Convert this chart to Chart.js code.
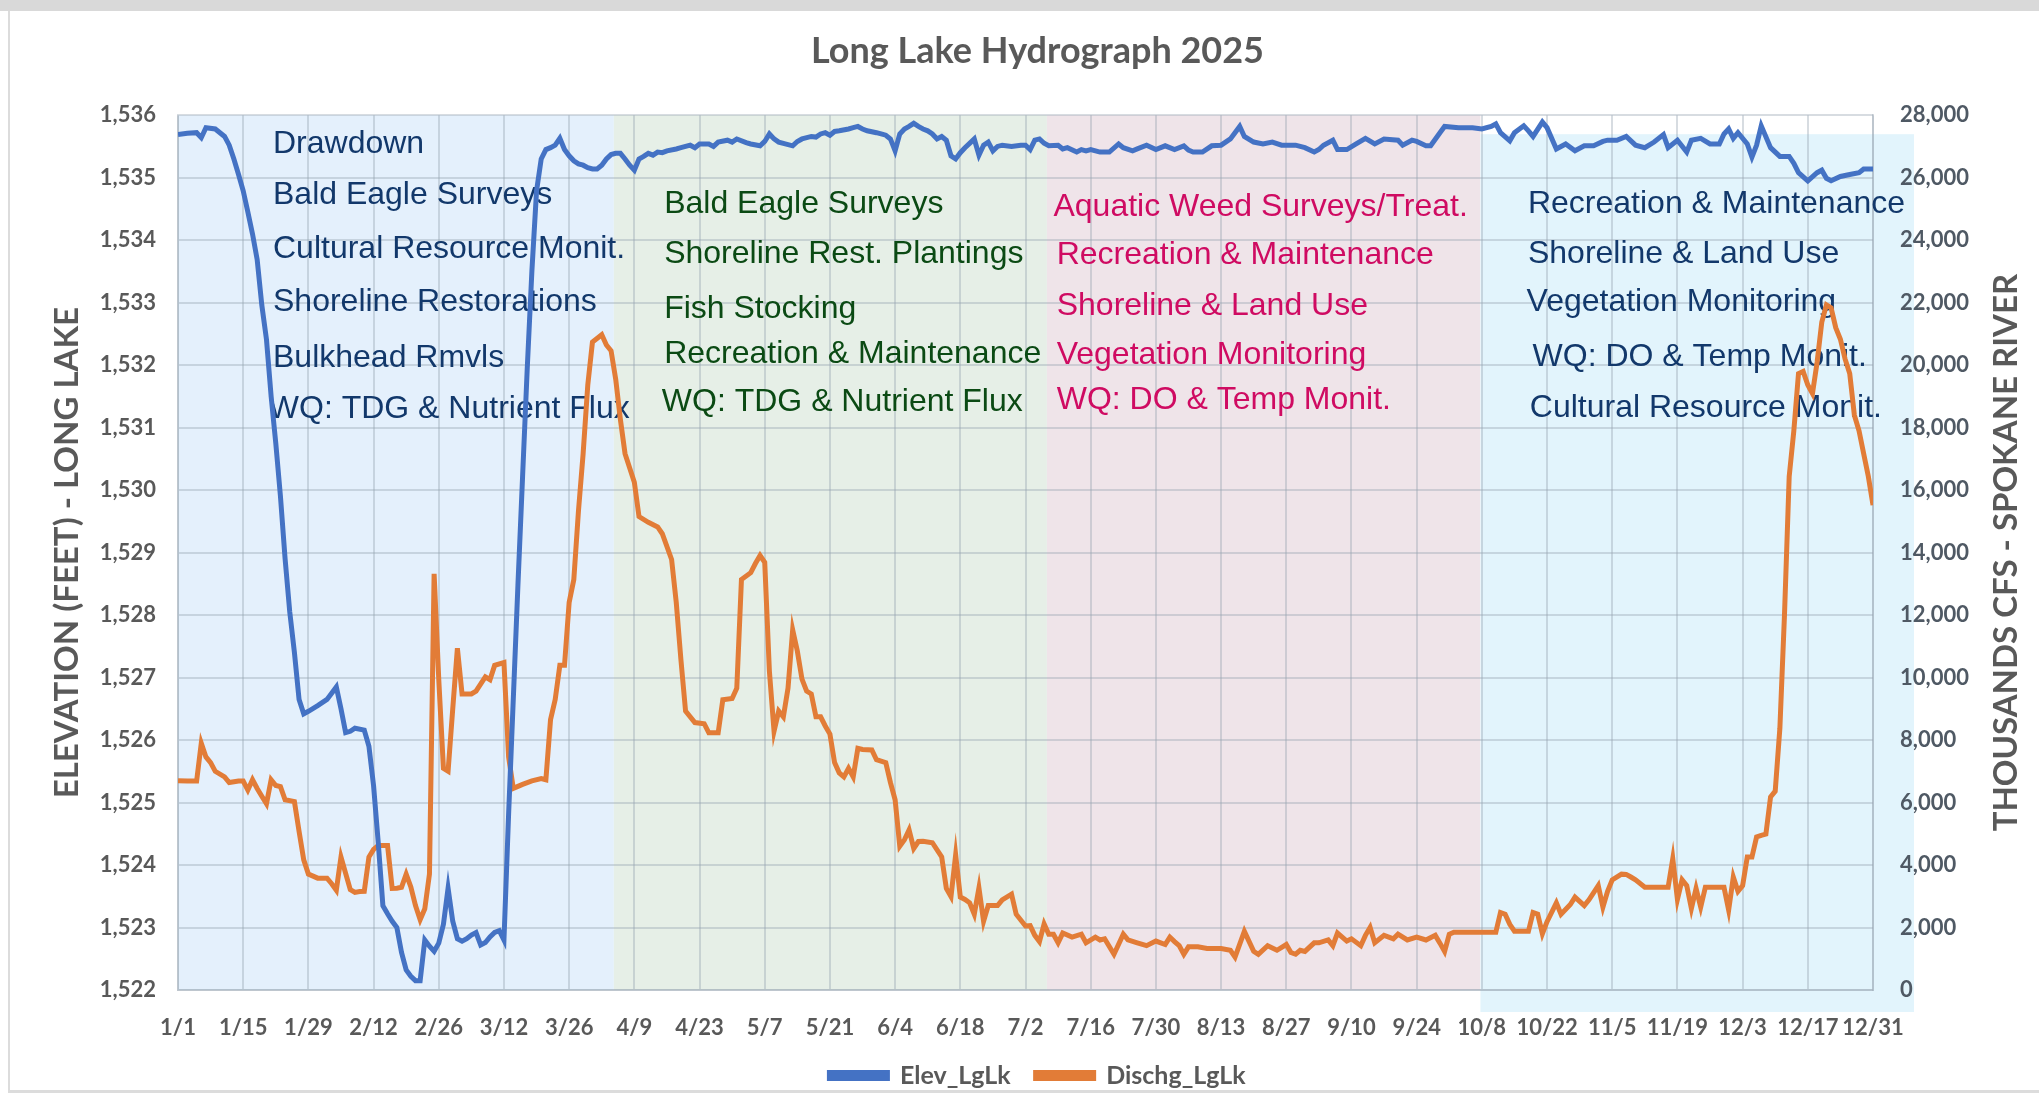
<!DOCTYPE html>
<html>
<head>
<meta charset="utf-8">
<title>Long Lake Hydrograph 2025</title>
<script src="https://cdn.jsdelivr.net/npm/chart.js@4.4.1/dist/chart.umd.min.js"></script>
<style>
  html, body { margin: 0; padding: 0; background: #ffffff; overflow: hidden; }
  .topbar { position: absolute; left: 0; top: 0; width: 2039px; height: 11px; background: #d9d9d9; }
  .frame { position: absolute; left: 8px; top: 11px; width: 2031px; height: 1079px;
           border-left: 2px solid #dcdcdc; border-bottom: 3px solid #dcdcdc; }
  .chart-box { position: absolute; left: 0; top: 0; width: 2039px; height: 1094px; }
</style>
</head>
<body>
<div class="topbar"></div>
<div class="frame"></div>
<div class="chart-box"><canvas id="hydrograph" width="2039" height="1094"></canvas></div>
<script>
// ---- data (day 0 = 1/1/2025) ----
const elevDay = [0,2,4,5,6,8,10,11,12,13,14,15,16,17,18,19,20,21,22,23,24,25,26,27,28,30,32,33,34,35,36,37,38,40,41,42,43,44,45,46,47,48,49,50,51,52,53,54,55,56,57,58,59,60,61,62,63,64,65,66,67,68,69,70,71,72,73,74,75,76,77,78,79,80,81,82,83,84,85,86,87,88,89,90,91,92,93,94,95,96,97,98,99,100,101,102,103,104,105,107,108,110,111,112,114,115,116,118,119,120,122,123,125,126,127,128,129,130,132,133,134,136,137,138,139,140,141,142,144,145,146,147,148,150,151,152,153,154,155,156,157,158,159,160,161,162,163,164,165,166,167,168,169,170,171,172,173,174,175,176,177,179,181,182,183,184,185,186,187,189,190,191,193,194,195,196,198,200,202,203,205,206,208,210,212,214,216,217,218,220,222,224,226,228,229,231,233,235,237,238,240,242,244,245,246,248,249,251,253,255,257,259,262,263,265,266,268,269,271,272,275,278,280,282,283,284,286,287,289,290,291,293,294,296,298,300,302,304,306,307,309,311,313,315,317,319,320,322,324,325,327,329,331,332,333,334,335,337,338,339,340,342,344,346,347,348,350,352,353,354,355,357,359,361,362,364];
const elevFt = [1535.69,1535.71,1535.72,1535.64,1535.80,1535.78,1535.66,1535.52,1535.30,1535.05,1534.79,1534.45,1534.10,1533.69,1532.96,1532.41,1531.50,1530.75,1529.90,1528.90,1528.05,1527.40,1526.65,1526.42,1526.46,1526.55,1526.65,1526.75,1526.85,1526.50,1526.12,1526.14,1526.19,1526.16,1525.90,1525.27,1524.36,1523.35,1523.22,1523.10,1523.00,1522.60,1522.32,1522.22,1522.15,1522.15,1522.80,1522.70,1522.62,1522.75,1523.05,1523.63,1523.10,1522.82,1522.78,1522.82,1522.88,1522.92,1522.72,1522.76,1522.85,1522.92,1522.95,1522.80,1524.82,1526.65,1528.48,1530.22,1531.95,1533.51,1534.79,1535.30,1535.45,1535.48,1535.52,1535.63,1535.45,1535.35,1535.27,1535.22,1535.20,1535.16,1535.14,1535.14,1535.20,1535.30,1535.37,1535.39,1535.39,1535.30,1535.20,1535.12,1535.30,1535.34,1535.39,1535.36,1535.41,1535.40,1535.43,1535.46,1535.48,1535.52,1535.48,1535.54,1535.54,1535.50,1535.57,1535.60,1535.57,1535.62,1535.56,1535.54,1535.51,1535.58,1535.70,1535.62,1535.57,1535.55,1535.51,1535.58,1535.62,1535.66,1535.65,1535.70,1535.72,1535.68,1535.74,1535.75,1535.78,1535.80,1535.82,1535.78,1535.75,1535.72,1535.70,1535.68,1535.62,1535.43,1535.70,1535.78,1535.82,1535.87,1535.82,1535.78,1535.75,1535.70,1535.62,1535.66,1535.60,1535.35,1535.30,1535.40,1535.48,1535.55,1535.62,1535.36,1535.52,1535.57,1535.43,1535.50,1535.52,1535.50,1535.52,1535.52,1535.45,1535.60,1535.62,1535.55,1535.51,1535.52,1535.46,1535.48,1535.41,1535.45,1535.43,1535.45,1535.41,1535.41,1535.54,1535.48,1535.43,1535.46,1535.52,1535.45,1535.51,1535.45,1535.51,1535.44,1535.41,1535.41,1535.51,1535.52,1535.62,1535.82,1535.66,1535.57,1535.54,1535.57,1535.52,1535.52,1535.52,1535.48,1535.41,1535.45,1535.52,1535.60,1535.45,1535.45,1535.54,1535.63,1535.54,1535.62,1535.60,1535.52,1535.60,1535.58,1535.51,1535.51,1535.72,1535.82,1535.80,1535.80,1535.78,1535.82,1535.86,1535.72,1535.59,1535.72,1535.83,1535.75,1535.66,1535.89,1535.80,1535.46,1535.54,1535.43,1535.51,1535.51,1535.58,1535.60,1535.60,1535.66,1535.52,1535.48,1535.57,1535.69,1535.48,1535.60,1535.41,1535.60,1535.63,1535.54,1535.54,1535.70,1535.78,1535.63,1535.72,1535.54,1535.33,1535.52,1535.83,1535.48,1535.34,1535.34,1535.23,1535.08,1534.95,1535.08,1535.12,1534.99,1534.95,1535.02,1535.05,1535.08,1535.14,1535.14];

const flowDay = [0,2,4,5,6,7,8,10,11,13,14,15,16,17,18,19,20,21,22,23,25,26,27,28,30,32,33,34,35,37,38,39,40,41,42,43,45,46,47,48,49,50,51,52,53,54,55,56,57,58,59,60,61,63,64,66,67,68,70,71,72,74,76,78,79,80,81,82,83,84,85,86,87,88,89,91,92,93,94,95,96,98,99,101,103,104,106,107,108,109,111,113,114,116,117,119,120,121,123,124,125,126,127,128,129,130,131,132,133,134,135,136,137,138,139,140,141,142,143,144,145,146,147,149,150,152,153,154,155,156,157,158,159,160,162,164,165,166,167,168,169,170,171,172,173,174,176,177,179,180,182,183,184,185,186,187,188,189,190,192,194,195,197,198,199,201,203,204,206,208,210,212,213,214,215,216,217,219,221,224,226,227,229,231,232,234,236,238,239,240,241,242,244,245,247,248,249,251,252,254,255,256,257,259,261,262,264,266,268,270,271,272,273,274,283,284,285,286,287,290,291,292,293,294,296,297,299,300,302,303,305,306,307,308,310,311,312,313,315,320,321,322,323,324,325,326,327,328,332,333,334,335,336,337,338,339,340,341,342,343,344,345,346,347,348,349,350,351,352,353,354,355,356,357,358,359,360,361,362,363,364];
const flowCfs = [6700,6690,6690,7900,7460,7280,7000,6820,6640,6690,6690,6400,6730,6450,6200,5960,6730,6546,6510,6090,6030,5080,4165,3710,3580,3580,3400,3195,4257,3213,3122,3150,3159,4257,4500,4623,4623,3250,3260,3287,3708,3300,2701,2250,2600,3708,13320,9933,7095,7004,9000,10940,9476,9476,9567,10025,9933,10391,10482,7461,6454,6582,6692,6765,6729,8652,9293,10391,10391,12405,13137,15335,17166,19363,20736,20974,20645,20462,19546,18265,17166,16251,15152,14969,14823,14603,13779,12405,10574,8926,8560,8523,8230,8230,9293,9329,9659,13137,13357,13650,13906,13687,10208,8285,8926,8743,9659,11527,10849,9950,9567,9476,8743,8743,8450,8194,7278,6950,6821,7095,6821,7736,7700,7681,7370,7278,6637,6088,4600,4806,5126,4532,4752,4760,4715,4257,3250,2990,4325,2975,2900,2792,2426,3268,2200,2701,2701,2884,3067,2426,2050,2060,1749,1548,2115,1785,1785,1511,1822,1694,1785,1511,1694,1602,1639,1144,1785,1602,1511,1419,1566,1456,1694,1550,1419,1144,1382,1382,1327,1327,1272,1053,1877,1236,1144,1419,1272,1456,1200,1144,1272,1236,1511,1511,1602,1419,1822,1566,1639,1419,1749,2005,1511,1749,1639,1785,1602,1694,1602,1749,1500,1236,1785,1850,1850,2480,2426,2100,1880,1880,2480,2426,1800,2188,2792,2426,2737,2975,2701,2884,3342,2650,3159,3525,3708,3700,3616,3525,3287,3287,4200,2900,3525,3342,2609,3250,2650,3287,3287,2560,3616,3159,3342,4257,4257,4898,4950,4990,6180,6363,8377,12041,16434,17899,19730,19800,19363,19089,20096,21377,21927,21835,21200,20828,20200,19730,18400,17899,17166,16434,15518];

// activity periods (background bands), in days
const bandFrom = [0, 93.6, 186.6, 279.7];
const bandTo = [93.6, 186.6, 279.7, 372.8];
const bandColors = ["#e4f0fc", "#e6efe7", "#efe4e9", "#e2f4fc"];
const bandTopPad = [0, 0, 0, 19];     // last band sits a bit lower and spills past the axis
const bandBottomPad = [0, 0, 0, 22];

// notes written in each band
const blueNotes = ["Drawdown", "Bald Eagle Surveys", "Cultural Resource Monit.", "Shoreline Restorations", "Bulkhead Rmvls", "WQ: TDG & Nutrient Flux"];
const blueNoteAt = [[20.4, 1535.58], [20.4, 1534.77], [20.4, 1533.90], [20.4, 1533.05], [20.4, 1532.16], [19.5, 1531.34]];
const greenNotes = ["Bald Eagle Surveys", "Shoreline Rest. Plantings", "Fish Stocking", "Recreation & Maintenance", "WQ: TDG & Nutrient Flux"];
const greenNoteAt = [[104.4, 1534.63], [104.4, 1533.82], [104.4, 1532.94], [104.4, 1532.23], [103.9, 1531.45]];
const pinkNotes = ["Aquatic Weed Surveys/Treat.", "Recreation & Maintenance", "Shoreline & Land Use", "Vegetation Monitoring", "WQ: DO & Temp Monit."];
const pinkNoteAt = [[188.0, 1534.58], [188.7, 1533.81], [188.7, 1532.99], [188.7, 1532.21], [188.7, 1531.48]];
const cyanNotes = ["Recreation & Maintenance", "Shoreline & Land Use", "Vegetation Monitoring", "WQ: DO & Temp Monit.", "Cultural Resource Monit."];
const cyanNoteAt = [[289.9, 1534.63], [289.9, 1533.82], [289.6, 1533.05], [290.9, 1532.17], [290.3, 1531.36]];

const noteGroups = [
  { texts: blueNotes, at: blueNoteAt, color: "#12386b" },
  { texts: greenNotes, at: greenNoteAt, color: "#0b4a14" },
  { texts: pinkNotes, at: pinkNoteAt, color: "#cf0b62" },
  { texts: cyanNotes, at: cyanNoteAt, color: "#12386b" },
];

const gridColor = "rgba(150, 162, 175, 0.38)";

// day number -> "m/d"
function dayLabel(day) {
  const d = new Date(2025, 0, 1 + day);
  return (d.getMonth() + 1) + "/" + d.getDate();
}

// coloured season bands behind the grid
const bandPlugin = {
  id: "bands",
  beforeDraw(chart) {
    const { ctx, chartArea, scales } = chart;
    ctx.save();
    bandFrom.forEach((from, i) => {
      const x0 = scales.x.getPixelForValue(from);
      const x1 = scales.x.getPixelForValue(bandTo[i]);
      const y0 = chartArea.top + bandTopPad[i];
      const y1 = chartArea.bottom + bandBottomPad[i];
      ctx.fillStyle = bandColors[i];
      ctx.fillRect(x0, y0, x1 - x0, y1 - y0);
    });
    ctx.restore();
  },
};

// activity notes, under the lines
const notesPlugin = {
  id: "notes",
  beforeDatasetsDraw(chart) {
    const { ctx, scales } = chart;
    ctx.save();
    ctx.font = "32px 'Liberation Sans', Arial, sans-serif";
    ctx.textAlign = "left";
    ctx.textBaseline = "middle";
    noteGroups.forEach(group => {
      ctx.fillStyle = group.color;
      group.texts.forEach((t, i) => {
        const x = scales.x.getPixelForValue(group.at[i][0]);
        const y = scales.y.getPixelForValue(group.at[i][1]) + 3;
        ctx.fillText(t, x, y);
      });
    });
    ctx.restore();
  },
};

// right axis title reads bottom-to-top like the left one
const rightTitlePlugin = {
  id: "rightTitle",
  afterDraw(chart) {
    const { ctx, chartArea } = chart;
    ctx.save();
    ctx.translate(chart.width - 33, (chartArea.top + chartArea.bottom) / 2);
    ctx.rotate(-Math.PI / 2);
    ctx.font = "bold 33px Lato";
    ctx.fillStyle = "#595959";
    ctx.textAlign = "center";
    ctx.textBaseline = "middle";
    ctx.fillText("THOUSANDS CFS - SPOKANE RIVER", 0, 0);
    ctx.restore();
  },
};

Chart.defaults.font.family = "Lato";
Chart.defaults.color = "#595959";

const ctx = document.getElementById("hydrograph").getContext("2d");

const hydrograph = new Chart(ctx, {
  type: "line",
  data: {
    datasets: [
      {
        label: "Elev_LgLk",
        data: elevDay.map((d, i) => ({ x: d, y: elevFt[i] })),
        yAxisID: "y",
        borderColor: "#4472c4",
        backgroundColor: "#4472c4",
        borderWidth: 5,
        pointRadius: 0,
        tension: 0,
      },
      {
        label: "Dischg_LgLk",
        data: flowDay.map((d, i) => ({ x: d, y: flowCfs[i] })),
        yAxisID: "y1",
        borderColor: "#e27c37",
        backgroundColor: "#e27c37",
        borderWidth: 5,
        pointRadius: 0,
        tension: 0,
      },
    ],
  },
  options: {
    responsive: false,
    animation: false,
    layout: { padding: { left: 36, right: 0, top: 0, bottom: -4 } },
    plugins: {
      title: {
        display: true,
        text: "Long Lake Hydrograph 2025",
        color: "#595959",
        font: { size: 36, weight: "bold" },
        padding: { top: 30, bottom: 42 },
      },
      legend: {
        position: "bottom",
        labels: {
          boxWidth: 58,
          boxHeight: 6,
          padding: 25,
          color: "#595959",
          font: { size: 25, weight: "bold" },
        },
      },
      tooltip: { enabled: false },
    },
    scales: {
      x: {
        type: "linear",
        min: 0,
        max: 364,
        afterFit(scale) { scale.height = 48; },
        ticks: {
          stepSize: 14,
          autoSkip: false,
          maxRotation: 0,
          padding: 25,
          font: { size: 22, weight: "bold" },
          callback: v => dayLabel(v),
        },
        grid: { color: gridColor, lineWidth: 2, drawTicks: false },
        border: { color: gridColor, width: 2 },
      },
      y: {
        position: "left",
        min: 1522,
        max: 1536,
        afterFit(scale) { scale.width = 142; },
        ticks: { stepSize: 1, padding: 22, font: { size: 22, weight: "bold" } },
        grid: { color: gridColor, lineWidth: 2, drawTicks: false },
        border: { color: gridColor, width: 2 },
        title: {
          display: true,
          text: "ELEVATION (FEET) - LONG LAKE",
          color: "#595959",
          font: { size: 33, weight: "bold" },
          padding: { top: 12, bottom: 0 },
        },
      },
      y1: {
        position: "right",
        min: 0,
        max: 28000,
        afterFit(scale) { scale.width = 166; },
        ticks: { stepSize: 2000, padding: 27, color: "#4f5964", font: { size: 22, weight: "bold" } },
        grid: { drawOnChartArea: false, drawTicks: false },
        border: { color: gridColor, width: 2 },
      },
    },
  },
  plugins: [bandPlugin, notesPlugin, rightTitlePlugin],
});
</script>
</body>
</html>
